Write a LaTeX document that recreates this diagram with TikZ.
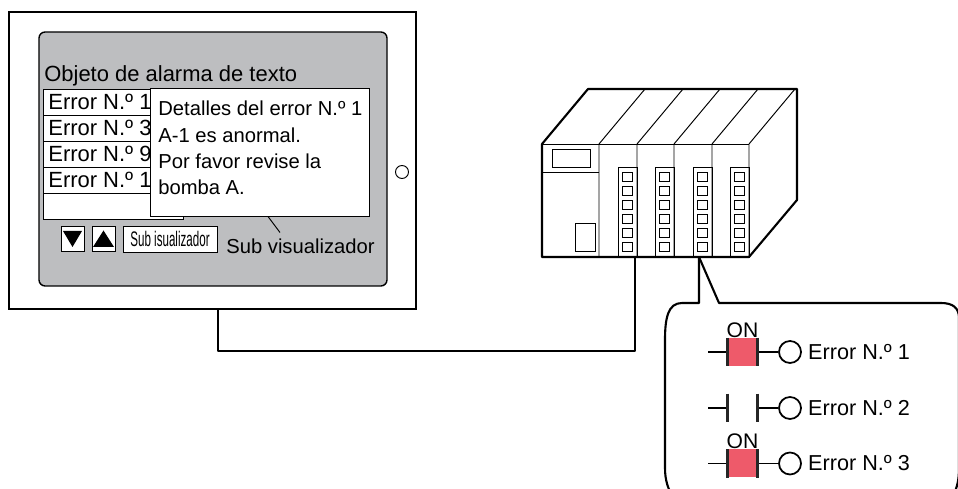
\documentclass[tikz,border=0pt]{standalone}
\usepackage{fontspec}
\setmainfont{Liberation Sans}
\usetikzlibrary{positioning}
\definecolor{panelgray}{RGB}{189,190,192}
\definecolor{alarmred}{RGB}{238,90,106}

\begin{document}
\begin{tikzpicture}[
			x=0.2mm, y=-0.2mm,
			frame/.style={draw, line width=1.4pt},
			thin line/.style={line width=0.55pt},
			thick line/.style={line width=1.2pt, line join=round},
			panel/.style={draw, line width=0.8pt, fill=panelgray, rounded corners=3.5pt},
			rowbox/.style={draw, thin line, fill=white, minimum width=28mm, minimum height=5.2mm, inner sep=0},
			btn/.style={draw, thin line, fill=white, minimum width=4.6mm, minimum height=5mm, inner sep=0},
			txt/.style={anchor=base west, inner sep=0, font=\fontsize{11.5}{13}\selectfont},
			big/.style={anchor=base west, inner sep=0, font=\fontsize{12.5}{14}\selectfont},
			contact/.style={minimum width=5.8mm, minimum height=5.6mm, inner sep=0},
			on/.style={fill=alarmred, label distance=0.7mm, label={[inner sep=0, font=\fontsize{12}{13}\selectfont]above:ON}},
			off/.style={},
			coil/.style={draw, circle, line width=1pt, minimum size=4.4mm, inner sep=0},
			rung/.style={line width=1.1pt},
			bar/.style={line width=1.7pt, draw=black!85}
			]
			\useasboundingbox (0,0) rectangle (958,489);
			\clip (0,0) rectangle (958,489);
			
			\node[frame, minimum width=81.4mm, minimum height=59.4mm] (monitor) at (212.5,160.5) {};
			\node[panel, minimum width=69.6mm, minimum height=50.8mm] (screen) at (213,159) {};
			\node[draw, circle, thin line, minimum size=2.6mm, inner sep=0] (knob) at (402,172) {};
			
			\node[big] (title) at (44,82) {Objeto de alarma de texto};
			\foreach \i/\n in {1/1,2/3,3/9,4/1} {
				\node[rowbox] (row\i) at (113,76+26*\i) {};
				\node[big] (entry\i) at (48,83.5+26*\i) {Error N.º \n};
			}
			\node[rowbox] (row5) at (113,206) {};
			
			\node[draw, thin line, fill=white, minimum width=43.8mm, minimum height=25.6mm, inner sep=0] (detail) at (259.5,152) {};
			\foreach \i/\t in {1/Detalles del error N.º 1, 2/A-1 es anormal., 3/Por favor revise la, 4/bomba A.}
				\node[txt] (line\i) at (158,89.7+26.3*\i) {\t};
			\draw[thin line] ([xshift=1.7mm]detail.south) -- ++(12,16);
			\node[txt] (sublabel) at (226,254) {Sub visualizador};
			
			\node[btn] (down) at (72.5,238.5) {};
			\node[btn] (up) at (103.5,238.5) {};
			\fill ([shift={(-9.5,-7.5)}]down.center) -- ([shift={(9.5,-7.5)}]down.center) -- ([shift={(0,8.5)}]down.center) -- cycle;
			\fill ([shift={(-10.5,8.5)}]up.center) -- ([shift={(10.5,8.5)}]up.center) -- ([shift={(0,-8)}]up.center) -- cycle;
			\node[btn, minimum width=18.8mm, minimum height=5.2mm] (subbtn) at (170,239)
				{\scalebox{0.55}[1]{\fontsize{12}{12}\selectfont Sub isualizador}};
			
			% PLC rack
			\draw[thick line] (542,257) -- (542,144) -- (588,89) -- (797,89) -- (797,200) -- (749,257) -- cycle;
			\draw[thin line] (542,144) -- (749,144);
			\foreach \x in {599,637,674,712,749}
				\draw[thin line] (\x,257) -- (\x,144) -- ++(46,-55);
			\draw[thin line] (552,149) rectangle (590,167);
			\draw[thin line] (542,172) -- (599,172);
			\draw[thin line] (575,223) rectangle (595,251);
			\foreach \r in {637,674,712,749} {
				\draw[thin line] (\r-19,167) rectangle (\r,257);
				\foreach \k in {0,...,5}
					\draw[thin line] (\r-15,172+14*\k) rectangle ++(10,9.5);
			}
			\draw[thick line] (542,257) -- (749,257);
			\coordinate (plcport) at (635,257);
			\coordinate (plctap) at (699,257);
			
			\draw[thick line] ([xshift=1.1mm]monitor.south) -- ++(0,41) -| (plcport);
			
			% balloon
			\draw[thick line] (plctap) -- (699,303) -- (682,303) .. controls (668,303) and (665,318) .. (665,340)
				-- (665,468) .. controls (665,480) and (668,490) .. (674,498);
			\draw[thick line] (plctap) -- (719,303) -- (941,303) .. controls (953,303) and (959,308) .. (959,318)
				-- (959,468) .. controls (959,480) and (957,488) .. (953,496);
			
			\foreach \i/\y/\st in {1/352/on, 2/408/off, 3/463.5/on} {
				\node[contact, \st] (contact\i) at (742.5,\y) {};
				\node[coil] (coil\i) at (790,\y) {};
				\node[right=1.2mm of coil\i, inner sep=0, font=\fontsize{12.3}{14}\selectfont] (err\i) {Error N.º \i};
				\draw[rung] (contact\i.west) -- ++(-20,0);
				\draw[rung] (contact\i.east) -- (coil\i);
				\draw[bar] (contact\i.north west) -- (contact\i.south west);
				\draw[bar] (contact\i.north east) -- (contact\i.south east);
			}
		\end{tikzpicture}
\end{document}
